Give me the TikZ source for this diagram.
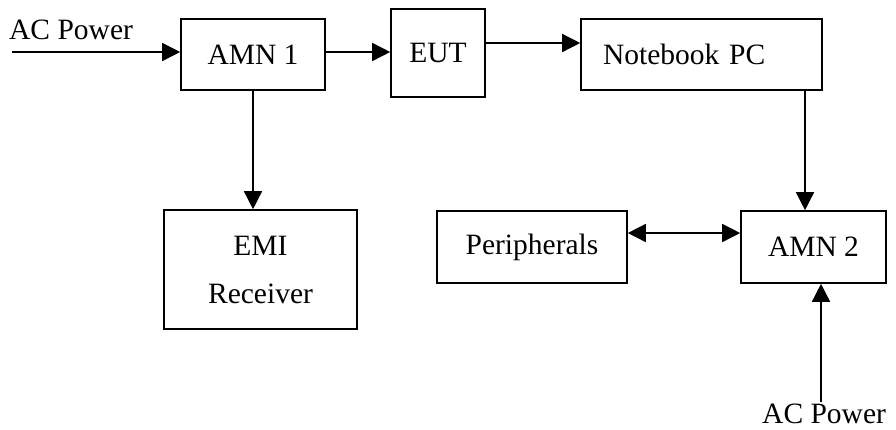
\documentclass[tikz,border=0pt]{standalone}
\usepackage{fontspec}
\setmainfont{Liberation Serif}
\usetikzlibrary{arrows.meta}
\begin{document}
\begin{tikzpicture}[x=1pt,y=-1pt,
  blk/.style={draw,line width=1.6pt,inner sep=0pt,font=\fontsize{29.5pt}{48pt}\selectfont},
  lbl/.style={inner sep=0pt,font=\fontsize{29.5pt}{48pt}\selectfont},
  conn/.style={line width=1.5pt,-{Triangle[length=18pt,width=18pt]}},
  dconn/.style={line width=1.5pt,{Triangle[length=18pt,width=18pt]}-{Triangle[length=18pt,width=18pt]}}]
\useasboundingbox (0,0) rectangle (896,429);
\node[blk,minimum width=144pt,minimum height=71pt] (amn1) at (253,54.5) {AMN 1};
\node[blk,minimum width=94pt,minimum height=88pt] (eut) at (438,53) {EUT};
\node[blk,minimum width=241pt,minimum height=71pt,text width=197pt,inner xsep=22pt,align=left] (nb) at (701.5,54.5) {Notebook PC};
\node[blk,minimum width=193pt,minimum height=119pt,align=center] (emi) at (260.5,269.5) {EMI\\Receiver};
\node[blk,minimum width=190pt,minimum height=72pt] (per) at (532,247) {Peripherals};
\node[blk,minimum width=145pt,minimum height=72pt] (amn2) at (813.5,247) {AMN 2};
\node[lbl,anchor=base west] (ac1) at (9,39) {AC Power};
\node[lbl,anchor=base west] (ac2) at (762,423) {AC Power};
\coordinate (acin) at (12,52);
\coordinate (acup) at (821,402);
\draw[conn] (acin) -- (acin -| amn1.west);
\draw[conn] (amn1.east |- acin) -- (eut.west |- acin);
\draw[conn] (eut.east |- 0,43) -- (nb.west |- 0,43);
\draw[conn] (amn1.south -| 253,0) -- (emi.north -| 253,0);
\draw[conn] (nb.south -| 805,0) -- (amn2.north -| 805,0);
\draw[dconn] (per.east |- 0,233) -- (amn2.west |- 0,233);
\draw[conn] (acup) -- (acup |- amn2.south);
\end{tikzpicture}
\end{document}
